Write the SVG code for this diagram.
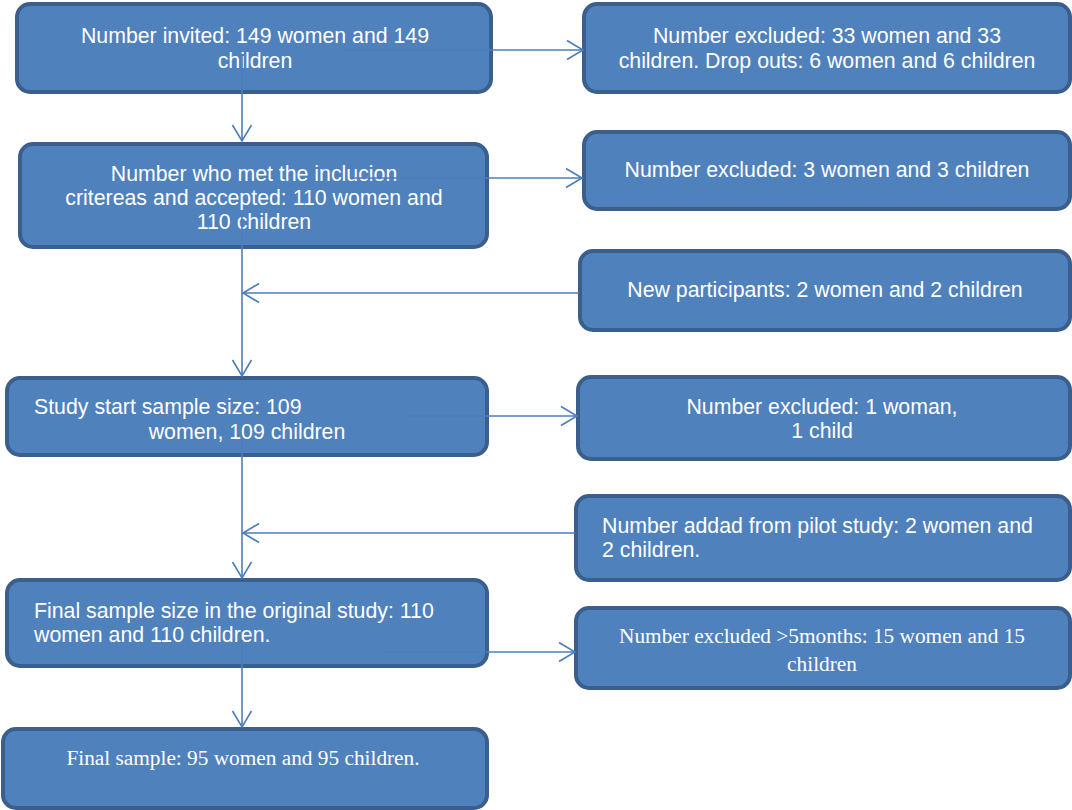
<svg xmlns="http://www.w3.org/2000/svg" width="1072" height="810" viewBox="0 0 1072 810">
<defs>
<marker id="arr" viewBox="0 0 20 22" refX="18" refY="11" markerWidth="20" markerHeight="22" markerUnits="userSpaceOnUse" orient="auto">
<path d="M2,1.5 L18,11 L2,20.5" fill="none" stroke="#4a7ebb" stroke-width="1.6"/>
</marker>
<style>
.box{fill:#4f81bd;stroke:#3a5f8c;stroke-width:4}
.t{font-family:"Liberation Sans",Arial,sans-serif;font-size:21.3px;fill:#ffffff}
.s{font-family:"Liberation Serif","Times New Roman",serif;font-size:21.3px;fill:#ffffff}
.c{text-anchor:middle}
.ln{stroke:#4a7ebb;stroke-width:1.6;fill:none}
</style>
</defs>
<rect width="1072" height="810" fill="#ffffff"/>
<g id="n1"><rect class="box" x="17" y="4" width="474" height="88" rx="13"/>
<text class="t c" x="255" y="43">Number invited: 149 women and 149</text>
<text class="t c" x="255" y="68">children</text></g>
<g id="n2"><rect class="box" x="584" y="4" width="486" height="88" rx="13"/>
<text class="t c" x="827" y="43">Number excluded: 33 women and 33</text>
<text class="t c" x="827" y="68">children. Drop outs: 6 women and 6 children</text></g>
<g id="n3"><rect class="box" x="20" y="144" width="467" height="103" rx="13"/>
<text class="t c" x="254" y="181">Number who met the inclucion</text>
<text class="t c" x="254" y="205">critereas and accepted: 110 women and</text>
<text class="t c" x="254" y="229">110 children</text></g>
<g id="n4"><rect class="box" x="584" y="132" width="486" height="77" rx="13"/>
<text class="t c" x="827" y="177">Number excluded: 3 women and 3 children</text></g>
<g id="n5"><rect class="box" x="580" y="251" width="490" height="79" rx="13"/>
<text class="t c" x="825" y="297">New participants: 2 women and 2 children</text></g>
<g id="n6"><rect class="box" x="7" y="378" width="480" height="77" rx="13"/>
<text class="t" x="34" y="414">Study start sample size: 109</text>
<text class="t c" x="247" y="439">women, 109 children</text></g>
<g id="n7"><rect class="box" x="578" y="377" width="492" height="82" rx="13"/>
<text class="t c" x="822" y="414">Number excluded: 1 woman,</text>
<text class="t c" x="822" y="438">1 child</text></g>
<g id="n8"><rect class="box" x="576" y="496" width="494" height="84" rx="13"/>
<text class="t" x="602" y="533">Number addad from pilot study: 2 women and</text>
<text class="t" x="602" y="557">2 children.</text></g>
<g id="n9"><rect class="box" x="7" y="580" width="480" height="86" rx="13"/>
<text class="t" x="34" y="618">Final sample size in the original study: 110</text>
<text class="t" x="34" y="642">women and 110 children.</text></g>
<g id="n10"><rect class="box" x="576" y="608" width="494" height="80" rx="13"/>
<text class="s c" x="822" y="643">Number excluded &gt;5months: 15 women and 15</text>
<text class="s c" x="822" y="671">children</text></g>
<g id="n11"><rect class="box" x="3" y="729" width="484" height="79" rx="13"/>
<text class="s c" x="243" y="765">Final sample: 95 women and 95 children.</text></g>
<g id="connectors">
<line class="ln" x1="242" y1="56" x2="242" y2="141" marker-end="url(#arr)"/>
<line class="ln" x1="242" y1="215" x2="242" y2="376" marker-end="url(#arr)"/>
<line class="ln" x1="242" y1="440" x2="242" y2="578" marker-end="url(#arr)"/>
<line class="ln" x1="242" y1="640" x2="242" y2="727" marker-end="url(#arr)"/>
<line class="ln" x1="343" y1="50" x2="583" y2="50" marker-end="url(#arr)"/>
<line class="ln" x1="350" y1="178" x2="582" y2="178" marker-end="url(#arr)"/>
<line class="ln" x1="579" y1="293" x2="243" y2="293" marker-end="url(#arr)"/>
<line class="ln" x1="405" y1="416" x2="577" y2="416" marker-end="url(#arr)"/>
<line class="ln" x1="575" y1="533" x2="243" y2="533" marker-end="url(#arr)"/>
<line class="ln" x1="385" y1="652" x2="575" y2="652" marker-end="url(#arr)"/>
</g>
</svg>
